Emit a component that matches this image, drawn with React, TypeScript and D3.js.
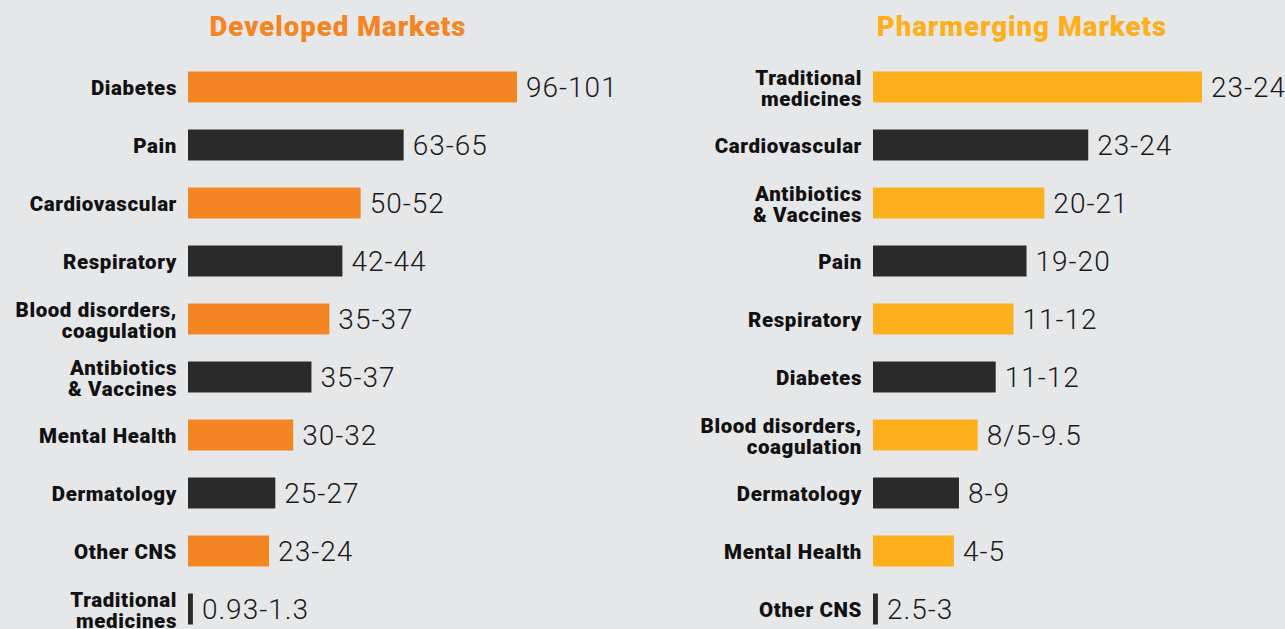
import React from "react";
import * as d3 from "d3";

const W = 1285;
const H = 629;

const devTitle = "Developed Markets";
const devCategories = ["Diabetes", "Pain", "Cardiovascular", "Respiratory", "Blood disorders,|coagulation", "Antibiotics|& Vaccines", "Mental Health", "Dermatology", "Other CNS", "Traditional|medicines"];
const devLabels = ["96-101", "63-65", "50-52", "42-44", "35-37", "35-37", "30-32", "25-27", "23-24", "0.93-1.3"];
const devBars = [101, 66.2, 53, 47.4, 43.4, 37.9, 32.3, 26.8, 24.9, 1.5];

const pharmTitle = "Pharmerging Markets";
const pharmCategories = ["Traditional|medicines", "Cardiovascular", "Antibiotics|& Vaccines", "Pain", "Respiratory", "Diabetes", "Blood disorders,|coagulation", "Dermatology", "Mental Health", "Other CNS"];
const pharmLabels = ["23-24", "23-24", "20-21", "19-20", "11-12", "11-12", "8/5-9.5", "8-9", "4-5", "2.5-3"];
const pharmBars = [24, 15.7, 12.5, 11.2, 10.25, 8.95, 7.64, 6.27, 5.9, 0.36];

const BG = "#e6e7e9";
const DARK = "#2a2a2a";

type PanelProps = {
  title: string;
  color: string;
  categories: string[];
  labels: string[];
  bars: number[];
  x0: number;
  titleX: number;
};

function Panel({ title, color, categories, labels, bars, x0, titleX }: PanelProps) {
  const y = d3
    .scaleBand<number>()
    .domain(d3.range(categories.length))
    .range([58, 58 + 58 * categories.length])
    .paddingInner(0.466)
    .paddingOuter(0.233);
  const x = d3.scaleLinear().domain([0, d3.max(bars) as number]).range([x0, x0 + 329]);
  const labelFont = { fontFamily: "Roboto, sans-serif", fontWeight: 900, fontSize: 20.5, letterSpacing: 0.6 } as const;
  return (
    <g>
      <text x={titleX} y={36} textAnchor="middle" fill={color} fontFamily="Roboto, sans-serif" fontWeight={900} fontSize={27.5} letterSpacing={1}>
        {title}
      </text>
      {categories.map((c, i) => {
        const by = y(i) as number;
        const cy = by + y.bandwidth() / 2;
        const lines = c.split("|");
        const fill = i % 2 === 0 ? color : DARK;
        return (
          <g key={i}>
            <rect x={x(0)} y={by} width={x(bars[i]) - x(0)} height={y.bandwidth()} fill={fill} />
            {lines.length === 1 ? (
              <text x={x0 - 11} y={cy + 8} textAnchor="end" fill="#111" {...labelFont}>
                {lines[0]}
              </text>
            ) : (
              <text textAnchor="end" fill="#111" {...labelFont}>
                <tspan x={x0 - 11} y={cy - 2.5}>{lines[0]}</tspan>
                <tspan x={x0 - 11} y={cy + 18.5}>{lines[1]}</tspan>
              </text>
            )}
            <text x={x(bars[i]) + 9} y={cy + 10} fill="#1a1a1a" fontFamily="Roboto, sans-serif" fontWeight={300} fontSize={28} letterSpacing={1}>
              {labels[i]}
            </text>
          </g>
        );
      })}
    </g>
  );
}

export default function App() {
  return (
    <svg width={W} height={H} style={{ position: "absolute", left: 0, top: 0, display: "block" }}>
      <rect x={0} y={0} width={W} height={H} fill={BG} />
      <Panel title={devTitle} color="#f48523" categories={devCategories} labels={devLabels} bars={devBars} x0={188} titleX={338} />
      <Panel title={pharmTitle} color="#fdb01b" categories={pharmCategories} labels={pharmLabels} bars={pharmBars} x0={873} titleX={1022} />
    </svg>
  );
}
